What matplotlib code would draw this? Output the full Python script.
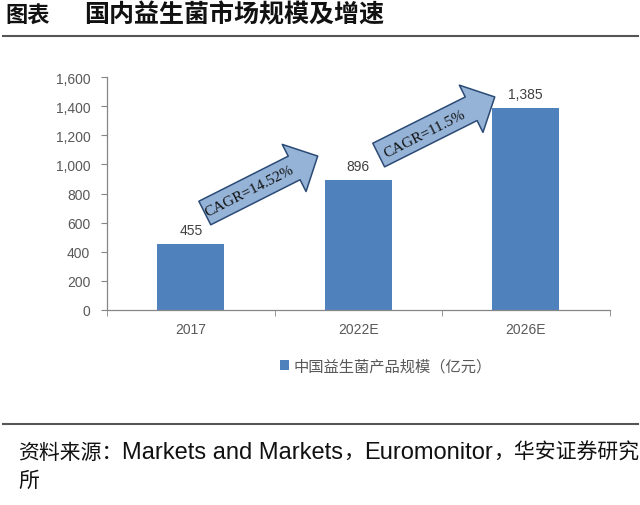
import numpy as np
import matplotlib
matplotlib.use("Agg")
import matplotlib.pyplot as plt
from matplotlib.ticker import FuncFormatter, FixedLocator

plt.rcParams['font.family'] = ['Liberation Sans', 'Noto Sans CJK SC', 'DejaVu Sans']

years = ["2017", "2022E", "2026E"]
market_size = [455, 896, 1385]
cagr_labels = ["CAGR=14.52%", "CAGR=11.5%"]
legend_label = "中国益生菌产品规模（亿元）"
title_left = "图表"
title_main = "国内益生菌市场规模及增速"
# source line pieces: (text, is_cjk)
source_parts = [("资料来源：", True), ("Markets and Markets", False), ("，", True),
                ("Euromonitor", False), ("，华安证券研究", True)]
source_tail = "所"

bar_color = "#4F81BD"
text_gray = "#595959"

fig = plt.figure(figsize=(6.4, 5.06), dpi=100)
ax = fig.add_axes([107 / 640, 1 - 311 / 506, 502.5 / 640, 233 / 506])

x = np.arange(len(years))
bars = ax.bar(x, market_size, width=0.4, color=bar_color, label=legend_label, zorder=2)

for xi, v in zip(x, market_size):
    ax.annotate(f"{v:,}", (xi, v), xytext=(0, 5), textcoords="offset points",
                ha="center", va="bottom", fontsize=10, color="#404040")

ax.set_xlim(-0.5, 2.5)
ax.set_ylim(0, 1600)
ax.set_yticks(np.arange(0, 1601, 200))
ax.yaxis.set_major_formatter(FuncFormatter(lambda v, p: f"{int(v):,}"))
ax.set_xticks(x)
ax.set_xticklabels(years)
ax.xaxis.set_minor_locator(FixedLocator([-0.5, 0.5, 1.5, 2.5]))
ax.tick_params(axis="x", which="major", length=0, pad=9, labelsize=10, labelcolor=text_gray)
ax.tick_params(axis="x", which="minor", length=4, color="#868686")
ax.tick_params(axis="y", length=4, pad=8, labelsize=10, labelcolor=text_gray, color="#868686")
for s in ["top", "right"]:
    ax.spines[s].set_visible(False)
for s in ["left", "bottom"]:
    ax.spines[s].set_color("#868686")
    ax.spines[s].set_linewidth(0.9)

# CAGR arrows: tail -> tip in data coords, label at the middle of the body
arrows = [((0.084, 666), (0.758, 1057), (0.352, 821)),
          ((1.122, 1064), (1.815, 1463), (1.397, 1215))]
for (tail, tip, mid), lab in zip(arrows, cagr_labels):
    ax.annotate("", xy=tip, xytext=tail,
                arrowprops=dict(arrowstyle="simple,head_length=1.9,head_width=3.8,tail_width=1.9",
                                mutation_scale=10, fc="#95B3D7", ec="#2B4A75", lw=1.1,
                                shrinkA=0, shrinkB=0), zorder=3)
    ax.text(mid[0], mid[1], lab, rotation=27, rotation_mode="anchor", ha="center", va="center",
            fontsize=11, family="Liberation Serif", color="#111111", zorder=4)

ax.legend(loc="upper center", bbox_to_anchor=(0.555, -0.145), frameon=False, handlelength=0.6,
          handleheight=0.6, handletextpad=0.3,
          prop={"family": "Noto Sans CJK SC", "size": 11}, labelcolor=text_gray)

# title and separators
fig.text(5 / 640, 1 - 15 / 506, title_left, fontsize=16, fontweight="bold",
         family="Noto Sans CJK SC", va="center", ha="left", color="#111111")
fig.text(84 / 640, 1 - 15 / 506, title_main, fontsize=18, fontweight="bold",
         family="Noto Sans CJK SC", va="center", ha="left", color="#111111")
fig.add_artist(plt.Line2D([3 / 640, 638 / 640], [1 - 37 / 506] * 2, color="#555555", lw=1.5))
fig.add_artist(plt.Line2D([3 / 640, 638 / 640], [1 - 425 / 506] * 2, color="#555555", lw=1.5))

# source line, laid out piece by piece
renderer = fig.canvas.get_renderer()
xpos = 18
for txt, cjk in source_parts:
    t = fig.text(xpos / 640, 1 - 453 / 506, txt, va="center", ha="left", color="#111111",
                 fontsize=15 if cjk else 17,
                 family=["Noto Sans CJK SC"] if cjk else ["Liberation Sans"])
    xpos += t.get_window_extent(renderer).width
fig.text(18 / 640, 1 - 481 / 506, source_tail, fontsize=15, va="center", ha="left",
         family="Noto Sans CJK SC", color="#111111")

fig.savefig("out.png", dpi=100)
